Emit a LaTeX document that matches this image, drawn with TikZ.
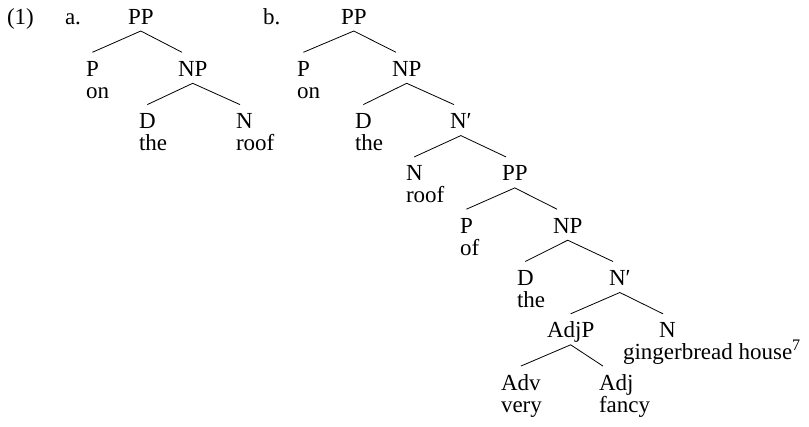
\documentclass[tikz,border=0pt]{standalone}
\usepackage{fontspec}
\setmainfont{Liberation Serif}
\begin{document}
\begin{tikzpicture}[x=1pt,y=-1pt,
  lab/.style={anchor=base west, inner sep=0pt, outer sep=0pt, font=\fontsize{23}{27}\selectfont},
  edge/.style={line width=0.8pt}]
\useasboundingbox (0,0) rectangle (809,426);
% header labels
\node[lab] (ex) at (7,24) {(1)};
\node[lab] (la) at (65,24) {a.};
\node[lab] (lb) at (263,24) {b.};
% tree a
\node[lab] (aPP) at (128,24) {PP};
\node[lab] (aP) at (86,76.3) {P};
\node[lab] (aon) at (86,98.3) {on};
\node[lab] (aNP) at (178,76.3) {NP};
\node[lab] (aD) at (139,128.6) {D};
\node[lab] (athe) at (139,150.6) {the};
\node[lab] (aN) at (236,128.6) {N};
\node[lab] (aroof) at (236,150.6) {roof};
% tree b
\node[lab] (bPP) at (341,24) {PP};
\node[lab] (bP) at (297,76.3) {P};
\node[lab] (bon) at (297,98.3) {on};
\node[lab] (bNP) at (392,76.3) {NP};
\node[lab] (bD) at (355,128.6) {D};
\node[lab] (bthe) at (355,150.6) {the};
\node[lab] (bNb) at (450,128.6) {N\char"2032};
\node[lab] (bN) at (406,180.9) {N};
\node[lab] (broof) at (406,202.9) {roof};
\node[lab] (bPP2) at (502,180.9) {PP};
\node[lab] (bP2) at (460,233.2) {P};
\node[lab] (bof) at (460,255.2) {of};
\node[lab] (bNP2) at (553,233.2) {NP};
\node[lab] (bD2) at (517,285.5) {D};
\node[lab] (bthe2) at (517,307.5) {the};
\node[lab] (bNb2) at (609,285.5) {N\char"2032};
\node[lab] (bAdjP) at (547,337.8) {AdjP};
\node[lab] (bN2) at (659,337.8) {N};
\node[lab] (bgh) at (623,359.8) {gingerbread house\textsuperscript{7}};
\node[lab] (bAdv) at (501,390.1) {Adv};
\node[lab] (bvery) at (501,412.1) {very};
\node[lab] (bAdj) at (599,390.1) {Adj};
\node[lab] (bfancy) at (599,412.1) {fancy};
% edges
\foreach \p/\l/\r in {aPP/aP/aNP, aNP/aD/aN, bPP/bP/bNP, bNP/bD/bNb, bNb/bN/bPP2,
  bPP2/bP2/bNP2, bNP2/bD2/bNb2, bNb2/bAdjP/bN2, bAdjP/bAdv/bAdj}{
  \draw[edge] ([yshift=24pt]\l.base) -- ([yshift=-7pt]\p.base) -- ([xshift=4pt,yshift=24pt]\r.base west);
}
\end{tikzpicture}
\end{document}
